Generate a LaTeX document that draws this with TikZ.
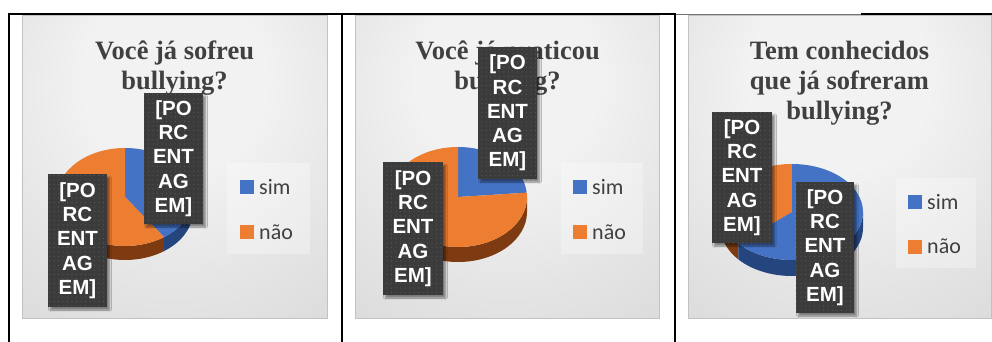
\documentclass[tikz,border=0pt]{standalone}
\usepackage{fontspec}
\setmainfont{Liberation Serif}
\newfontfamily\lblfont{Liberation Sans}
\newfontfamily\legfont{Carlito}
\usetikzlibrary{patterns.meta,shadows.blur}
\definecolor{txtgray}{HTML}{404040}
\definecolor{simblue}{HTML}{4472C4}
\definecolor{simside}{HTML}{25457E}
\definecolor{naoorange}{HTML}{ED7D31}
\definecolor{naoside}{HTML}{7E3B11}
\definecolor{lblfill}{HTML}{3B3B3B}
\definecolor{lbldot}{HTML}{575757}
\definecolor{bgA}{HTML}{F2F2F2}
\definecolor{bgB}{HTML}{D5D5D5}
\definecolor{bgC}{HTML}{C2C2C2}
\pgfdeclareradialshading{chartshade}{\pgfpoint{0bp}{18bp}}{color(0bp)=(bgA); color(15bp)=(bgA); color(50bp)=(bgB); color(78bp)=(bgC)}
% #1 centre, #2 rx, #3 ry, #4 start (screen angle), #5 end, #6 colour
\newcommand\pietop[6]{\fill[#6] (#1) -- ++({-(#4)}:#2 and #3) arc[start angle={-(#4)}, end angle={-(#5)}, x radius=#2, y radius=#3] -- cycle;}
\newcommand\pieside[7]{\fill[#6] (#1) ++({-(#4)}:#2 and #3) arc[start angle={-(#4)}, end angle={-(#5)}, x radius=#2, y radius=#3] -- ++(0,#7) arc[start angle={-(#5)}, end angle={-(#4)}, x radius=#2, y radius=#3] -- cycle;}
\tikzset{
  lbl/.style={fill=lblfill, postaction={pattern={Dots[distance=4.5pt, radius=0.6pt]}, pattern color=lbldot},
    text=white, font=\lblfont\bfseries\fontsize{20.5}{24.3}\selectfont, align=center, inner sep=0pt,
    minimum width=59pt, minimum height=131pt,
    blur shadow={shadow xshift=2.5pt, shadow yshift=-3pt, shadow opacity=45, shadow blur steps=6}},
  ttl/.style={font=\bfseries\fontsize{26.5}{30}\selectfont, text=txtgray, anchor=base, inner sep=0pt},
  legtxt/.style={font=\legfont\fontsize{22}{26}\selectfont, text=txtgray, anchor=base west, inner sep=0pt},
  chartbg/.style={shading=chartshade, draw=bgC, line width=0.8pt},
  legbg/.style={fill=white, fill opacity=0.3},
  rule/.style={line width=1.8pt, black},
}
\begin{document}
\begin{tikzpicture}[x=1pt,y=-1pt]
\useasboundingbox (0,0) rectangle (992,342);
% ---------- table rules
\draw[rule] (8,14.3) -- (676,14.3);
\draw[rule] (861,14.3) -- (992,14.3);
\draw[line width=1.3pt, black!55] (676,14.3) -- (861,14.3);
\draw[rule] (9,14.3) -- (9,342);
\draw[rule] (342,14.3) -- (342,342);
\draw[rule] (675,14.3) -- (675,342);
% ---------- chart 1
\path[chartbg] (22,15.5) rectangle (327,318);
\node[ttl] (t1a) at (174.5,60) {Você já sofreu};
\node[ttl] (t1b) at (174.5,90) {bullying?};
\pieside{125,197}{68}{49}{180}{305}{naoside}{14}
\pieside{125,197}{68}{49}{305}{360}{simside}{14}
\pietop{125,197}{68}{49}{-55}{90}{simblue}
\pietop{125,197}{68}{49}{90}{305}{naoorange}
\path[legbg] (227,163) rectangle (310,254);
\fill[simblue] (240,180) rectangle (254,194);
\node[legtxt] (l1s) at (259,194) {sim};
\fill[naoorange] (240,225) rectangle (254,239);
\node[legtxt] (l1n) at (259,239) {não};
\node[lbl] (a1) at (173.5,158.5) {[PO\\RC\\ENT\\AG\\EM]};
\node[lbl, minimum height=133pt] (b1) at (77.5,240.5) {[PO\\RC\\ENT\\AG\\EM]};
% ---------- chart 2
\path[chartbg] (355,15.5) rectangle (659,318);
\node[ttl] (t2a) at (507.5,60) {Você já praticou};
\node[ttl] (t2b) at (507.5,90) {bullying?};
\pieside{458,197}{69}{50}{180}{360}{naoside}{15}
\pietop{458,197}{69}{50}{5}{90}{simblue}
\pietop{458,197}{69}{50}{90}{365}{naoorange}
\path[legbg] (561,163) rectangle (643,254);
\fill[simblue] (573,180) rectangle (587,194);
\node[legtxt] (l2s) at (592,194) {sim};
\fill[naoorange] (573,225) rectangle (587,239);
\node[legtxt] (l2n) at (592,239) {não};
\node[lbl, minimum height=132pt] (a2) at (507.5,113) {[PO\\RC\\ENT\\AG\\EM]};
\node[lbl, minimum height=133pt, minimum width=60pt] (b2) at (413,228.5) {[PO\\RC\\ENT\\AG\\EM]};
% ---------- chart 3
\path[chartbg] (688,15.5) rectangle (991,318);
\node[ttl] (t3a) at (839.5,60) {Tem conhecidos};
\node[ttl] (t3b) at (839.5,90) {que já sofreram};
\node[ttl] (t3c) at (839.5,120) {bullying?};
\pieside{792,212}{71}{48}{180}{221}{naoside}{16}
\pieside{792,212}{71}{48}{221}{360}{simside}{16}
\pietop{792,212}{71}{48}{90}{221}{naoorange}
\pietop{792,212}{71}{48}{221}{450}{simblue}
\path[legbg] (896,178) rectangle (976,268);
\fill[simblue] (908,195) rectangle (922,209);
\node[legtxt] (l3s) at (927,209) {sim};
\fill[naoorange] (908,240) rectangle (922,254);
\node[legtxt] (l3n) at (927,253) {não};
\node[lbl, minimum width=60pt] (a3) at (742,177.5) {[PO\\RC\\ENT\\AG\\EM]};
\node[lbl, minimum width=58pt] (b3) at (825,247.5) {[PO\\RC\\ENT\\AG\\EM]};
\end{tikzpicture}
\end{document}
